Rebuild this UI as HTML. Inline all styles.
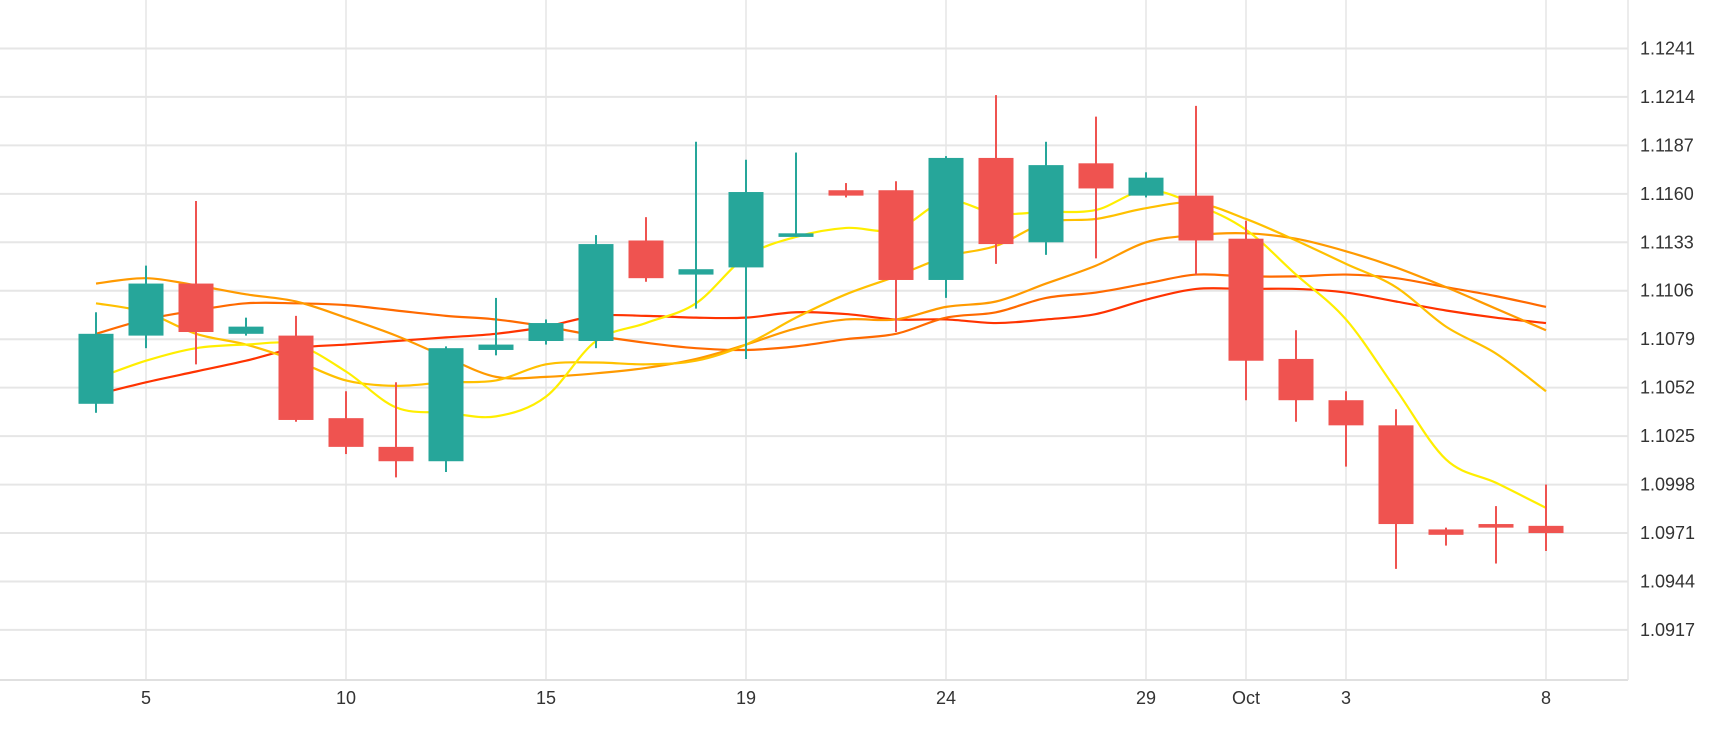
<!DOCTYPE html>
<html><head><meta charset="utf-8"><style>
html,body{margin:0;padding:0;background:#fff;width:1730px;height:730px;overflow:hidden}
svg{display:block}
text{font-family:"Liberation Sans",sans-serif;font-size:18px;fill:#333}
</style></head><body>
<svg id="chart" width="1730" height="730" viewBox="0 0 1730 730" xmlns="http://www.w3.org/2000/svg">
<g id="grid"></g>
<g id="lines"></g>
<g id="candles"></g>
<g id="axes"></g>
</svg>
<script>
const opens=[1.1043,1.1081,1.1110,1.1082,1.1081,1.1035,1.1019,1.1011,1.1073,1.1078,1.1078,1.1134,1.1115,1.1119,1.1136,1.1162,1.1162,1.1112,1.1180,1.1133,1.1177,1.1159,1.1159,1.1135,1.1068,1.1045,1.1031,1.0973,1.0976,1.0975];
const highs=[1.1094,1.1120,1.1156,1.1091,1.1092,1.1050,1.1055,1.1075,1.1102,1.1090,1.1137,1.1147,1.1189,1.1179,1.1183,1.1166,1.1167,1.1181,1.1215,1.1189,1.1203,1.1172,1.1209,1.1145,1.1084,1.1050,1.1040,1.0974,1.0986,1.0998];
const lows=[1.1038,1.1074,1.1065,1.1081,1.1033,1.1015,1.1002,1.1005,1.1070,1.1076,1.1074,1.1111,1.1096,1.1068,1.1136,1.1158,1.1083,1.1102,1.1121,1.1126,1.1124,1.1158,1.1115,1.1045,1.1033,1.1008,1.0951,1.0964,1.0954,1.0961];
const closes=[1.1082,1.1110,1.1083,1.1086,1.1034,1.1019,1.1011,1.1074,1.1076,1.1088,1.1132,1.1113,1.1118,1.1161,1.1138,1.1159,1.1112,1.1180,1.1132,1.1176,1.1163,1.1169,1.1134,1.1067,1.1045,1.1031,1.0976,1.0970,1.0974,1.0971];
const maYellow=[1.1057,1.1067,1.1074,1.1076,1.1076,1.1061,1.1041,1.1038,1.1036,1.1047,1.1078,1.1088,1.1099,1.1125,1.1136,1.1141,1.1140,1.1156,1.1149,1.1150,1.1151,1.1162,1.1154,1.1140,1.1115,1.1090,1.1051,1.1012,1.0999,1.0985];
const maGold=[1.1099,1.1094,1.1082,1.1076,1.1067,1.1056,1.1053,1.1055,1.1056,1.1065,1.1066,1.1065,1.1067,1.1076,1.1091,1.1104,1.1114,1.1125,1.1131,1.1144,1.1146,1.1152,1.1155,1.1146,1.1134,1.1121,1.1108,1.1086,1.1071,1.1050];
const maOrange=[1.1110,1.1113,1.1109,1.1104,1.1100,1.1091,1.1081,1.1069,1.1058,1.1058,1.1060,1.1063,1.1068,1.1076,1.1085,1.1090,1.1090,1.1097,1.1100,1.1110,1.1120,1.1133,1.1137,1.1138,1.1135,1.1128,1.1119,1.1108,1.1096,1.1084];
const maDarkOrange=[1.1082,1.1090,1.1095,1.1099,1.1099,1.1098,1.1095,1.1092,1.1090,1.1086,1.1081,1.1077,1.1074,1.1073,1.1075,1.1079,1.1082,1.1091,1.1094,1.1102,1.1105,1.1110,1.1115,1.1114,1.1114,1.1115,1.1113,1.1108,1.1103,1.1097];
const maRed=[1.1048,1.1055,1.1061,1.1067,1.1074,1.1076,1.1078,1.1080,1.1082,1.1086,1.1092,1.1092,1.1091,1.1091,1.1094,1.1093,1.1090,1.1090,1.1088,1.1090,1.1093,1.1101,1.1107,1.1107,1.1107,1.1105,1.1100,1.1095,1.1091,1.1088];
const xTickIndex=[1,5,9,13,17,21,23,25,29];
const xTickLabels=["5","10","15","19","24","29","Oct","3","8"];
const yTicks=[1.1241,1.1214,1.1187,1.1160,1.1133,1.1106,1.1079,1.1052,1.1025,1.0998,1.0971,1.0944,1.0917];

const NS="http://www.w3.org/2000/svg";
const PLOT_R=1628, PLOT_B=680;
function xs(i){return 96+i*50;}
function ys(p){return (1.1268-p)/0.00005572;}
function mk(tag,attrs,parent){const e=document.createElementNS(NS,tag);for(const k in attrs)e.setAttribute(k,attrs[k]);parent.appendChild(e);return e;}
const grid=document.getElementById('grid'),lines=document.getElementById('lines'),cg=document.getElementById('candles'),axes=document.getElementById('axes');

yTicks.forEach((v,k)=>{
  const y=ys(v);
  const l=mk('line',{x1:0,x2:PLOT_R,y1:y,y2:y,stroke:'#e6e6e6','stroke-width':2},grid);
  
  
  const t=mk('text',{x:1640,y:y+6},axes);
  t.textContent=v.toFixed(4);
  
  
});
xTickIndex.forEach((idx,k)=>{
  const x=xs(idx);
  const l=mk('line',{x1:x,x2:x,y1:0,y2:PLOT_B,stroke:'#e6e6e6','stroke-width':1.5},grid);
  
  
  const t=mk('text',{x:x,y:704,'text-anchor':'middle'},axes);
  t.textContent=xTickLabels[k];
  
  
});
const bl=mk('line',{x1:0,x2:PLOT_R,y1:PLOT_B,y2:PLOT_B,stroke:'#e0e0e0','stroke-width':2},grid);


const rl=mk('line',{x1:PLOT_R,x2:PLOT_R,y1:0,y2:PLOT_B,stroke:'#e6e6e6','stroke-width':1.5},grid);



function smoothPath(vals){
  const pts=vals.map((v,i)=>[xs(i),ys(v)]);
  let d='M'+pts[0][0]+','+pts[0][1];
  for(let i=0;i<pts.length-1;i++){
    const p0=pts[Math.max(0,i-1)],p1=pts[i],p2=pts[i+1],p3=pts[Math.min(pts.length-1,i+2)];
    const c1=[p1[0]+(p2[0]-p0[0])/6,p1[1]+(p2[1]-p0[1])/6];
    const c2=[p2[0]-(p3[0]-p1[0])/6,p2[1]-(p3[1]-p1[1])/6];
    d+=' C'+c1[0]+','+c1[1]+' '+c2[0]+','+c2[1]+' '+p2[0]+','+p2[1];
  }
  return d;
}
[[maRed,'#ff3300','ma-red'],[maDarkOrange,'#ff6a00','ma-dark-orange'],[maOrange,'#ff9a00','ma-orange'],[maGold,'#ffc000','ma-gold'],[maYellow,'#ffee00','ma-yellow']].forEach(s=>{
  const p=mk('path',{d:smoothPath(s[0]),fill:'none',stroke:s[1],'stroke-width':2.2},lines);
  
  
});

opens.forEach((o,i)=>{
  const c=closes[i],up=c>=o,col=up?'#26a69a':'#ef5350',x=xs(i);
  const g=mk('g',{},cg);
  
  
  mk('line',{x1:x,x2:x,y1:ys(highs[i]),y2:ys(lows[i]),stroke:col,'stroke-width':2},g);
  const top=ys(Math.max(o,c)),h=Math.max(3,ys(Math.min(o,c))-top);
  mk('rect',{x:x-17.5,y:top,width:35,height:h,fill:col},g);
});
</script>
</body></html>
